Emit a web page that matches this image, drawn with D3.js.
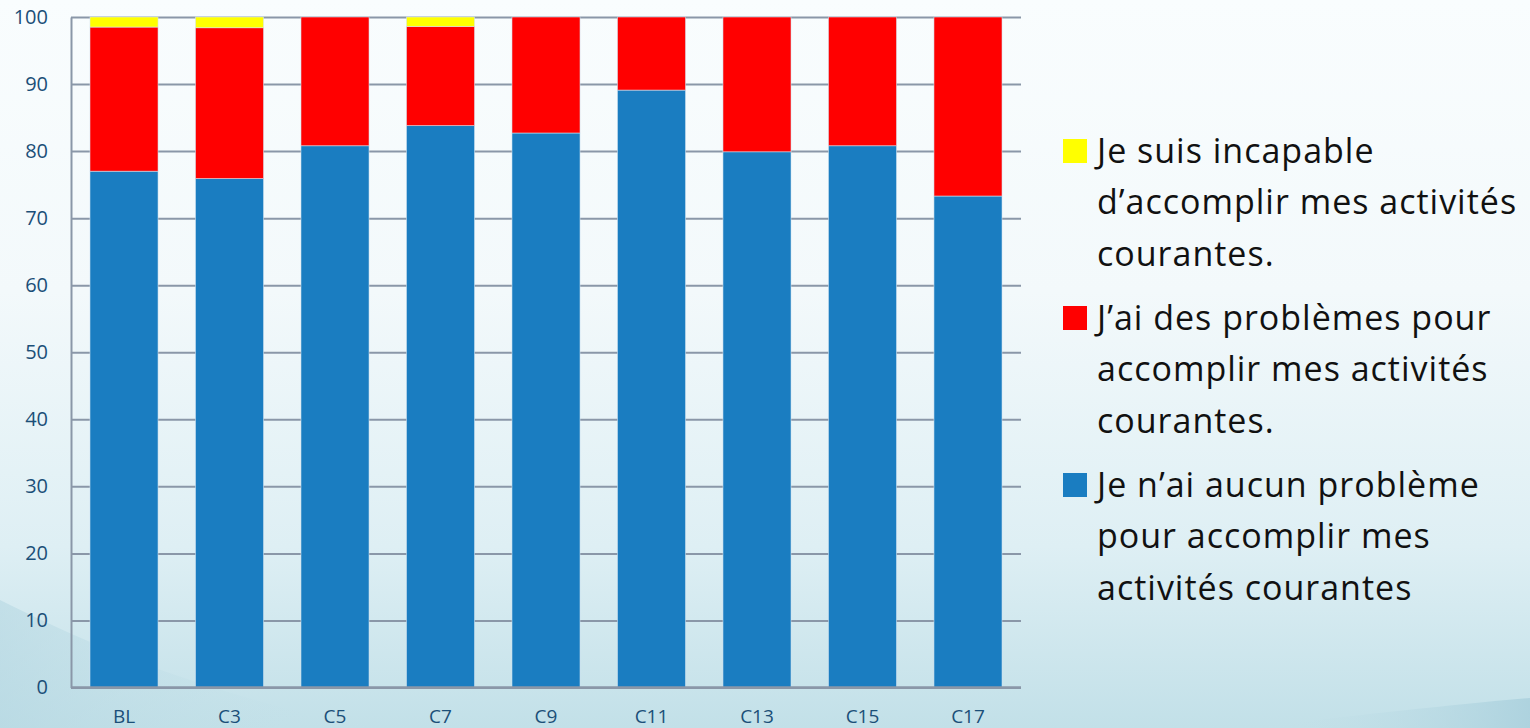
<!DOCTYPE html>
<html>
<head>
<meta charset="utf-8">
<script src="https://cdn.jsdelivr.net/npm/d3@7"></script>
<style>
  html, body { margin: 0; padding: 0; }
  body { width: 1530px; height: 728px; overflow: hidden; }
  svg { display: block; }
</style>
</head>
<body>
<svg id="chart" width="1530" height="728"></svg>
<script>
// Survey waves
const categories = ["BL", "C3", "C5", "C7", "C9", "C11", "C13", "C15", "C17"];
// Share of answers (%) per wave
const aucunProbleme = [77.0, 75.9, 80.8, 83.8, 82.7, 89.1, 79.9, 80.8, 73.3];
const desProblemes  = [21.5, 22.5, 19.2, 14.8, 17.3, 10.9, 20.1, 19.2, 26.7];
const incapable     = [1.5, 1.6, 0.0, 1.4, 0.0, 0.0, 0.0, 0.0, 0.0];
const yTicks = [0, 10, 20, 30, 40, 50, 60, 70, 80, 90, 100];

const legendLines = [
  ["Je suis incapable", "d’accomplir mes activités", "courantes."],
  ["J’ai des problèmes pour", "accomplir mes activités", "courantes."],
  ["Je n’ai aucun problème", "pour accomplir mes", "activités courantes"]
];
const colors = ["#1a7dc1", "#ff0000", "#ffff00"];

const svg = d3.select("#chart");

// Slide-like background
const defs = svg.append("defs");
const bg = defs.append("linearGradient").attr("id", "bg")
  .attr("x1", 0).attr("y1", 0).attr("x2", 0).attr("y2", 1);
bg.append("stop").attr("offset", "0%").attr("stop-color", "#f9fdfe");
bg.append("stop").attr("offset", "40%").attr("stop-color", "#f3f9fb");
bg.append("stop").attr("offset", "75%").attr("stop-color", "#deeff4");
bg.append("stop").attr("offset", "100%").attr("stop-color", "#c2e0e8");
svg.append("rect").attr("width", 1530).attr("height", 728).attr("fill", "url(#bg)");

const sw = defs.append("linearGradient").attr("id", "swoosh")
  .attr("x1", 0).attr("y1", 0).attr("x2", 1).attr("y2", 0);
sw.append("stop").attr("offset", "0%").attr("stop-color", "#b3d6e1").attr("stop-opacity", 0.55);
sw.append("stop").attr("offset", "100%").attr("stop-color", "#c7e3ea").attr("stop-opacity", 0.0);
svg.append("path")
  .attr("d", "M0,600 C100,650 220,700 380,728 L0,728 Z")
  .attr("fill", "url(#swoosh)");
const sw2 = defs.append("linearGradient").attr("id", "swoosh2")
  .attr("x1", 0).attr("y1", 0).attr("x2", 1).attr("y2", 0);
sw2.append("stop").attr("offset", "0%").attr("stop-color", "#c8e3ea").attr("stop-opacity", 0);
sw2.append("stop").attr("offset", "100%").attr("stop-color", "#a8cfdc").attr("stop-opacity", 0.8);
svg.append("path")
  .attr("d", "M1250,728 C1350,716 1450,705 1530,698 L1530,728 Z")
  .attr("fill", "url(#swoosh2)");

// Plot area
const margin = { left: 71, right: 1021, top: 17, bottom: 687.5 };
const x = d3.scaleBand().domain(categories)
  .range([margin.left, margin.right]).paddingInner(0.355).paddingOuter(0.18);
const y = d3.scaleLinear().domain([0, 100]).range([margin.bottom, margin.top]);

const rows = categories.map((c, i) => ({
  cat: c, a: aucunProbleme[i], p: desProblemes[i], n: incapable[i]
}));
const stacked = d3.stack().keys(["a", "p", "n"])(rows);

// Gridlines
const grid = svg.append("g")
  .attr("transform", `translate(${margin.left},0)`)
  .call(d3.axisLeft(y).tickValues(yTicks).tickSize(-(margin.right - margin.left)).tickFormat(""));
grid.select(".domain").remove();
grid.selectAll(".tick line").attr("stroke", "#8a97a8").attr("stroke-width", 2);

// Bars
svg.append("g").selectAll("g").data(stacked).join("g")
  .attr("fill", (d, i) => colors[i])
  .selectAll("rect").data(d => d.filter(s => s[1] - s[0] > 0)).join("rect")
  .attr("x", d => x(d.data.cat))
  .attr("width", x.bandwidth())
  .attr("y", d => y(d[1]))
  .attr("height", d => y(d[0]) - y(d[1]))
  .attr("stroke", "#d6e6f2").attr("stroke-width", 0.8).attr("stroke-opacity", 0.7);

// Y axis
const yAxis = svg.append("g")
  .attr("transform", `translate(${margin.left},0)`)
  .call(d3.axisLeft(y).tickValues(yTicks).tickSize(0).tickPadding(23));
yAxis.select(".domain").attr("stroke", "#8a97a8").attr("stroke-width", 2);
yAxis.selectAll("text")
  .attr("font-family", "'Open Sans', sans-serif").attr("font-size", 20)
  .attr("fill", "#1b4f78");

// X axis
const xAxis = svg.append("g")
  .attr("transform", `translate(0,${margin.bottom})`)
  .call(d3.axisBottom(x).tickSize(0).tickPadding(22));
xAxis.select(".domain").attr("stroke", "#8a97a8").attr("stroke-width", 2.5)
  .attr("d", `M${margin.left},0H${margin.right}`);
xAxis.selectAll("text")
  .attr("font-family", "'Open Sans', sans-serif").attr("font-size", 19)
  .attr("fill", "#1b4f78");

// Legend (top entry = top segment of the stack)
const legendColors = [colors[2], colors[1], colors[0]];
const legendTop = [139, 306, 473];
const lg = svg.append("g");
legendLines.forEach((lines, i) => {
  lg.append("rect")
    .attr("x", 1063).attr("y", legendTop[i])
    .attr("width", 24).attr("height", 24)
    .attr("fill", legendColors[i]);
  const t = lg.append("text")
    .attr("font-family", "'Open Sans', sans-serif").attr("font-size", 34)
    .attr("letter-spacing", 1.0)
    .attr("fill", "#111");
  lines.forEach((ln, j) => {
    t.append("tspan").attr("x", 1097).attr("y", legendTop[i] + 24 + j * 51.3).text(ln);
  });
});
</script>
</body>
</html>
